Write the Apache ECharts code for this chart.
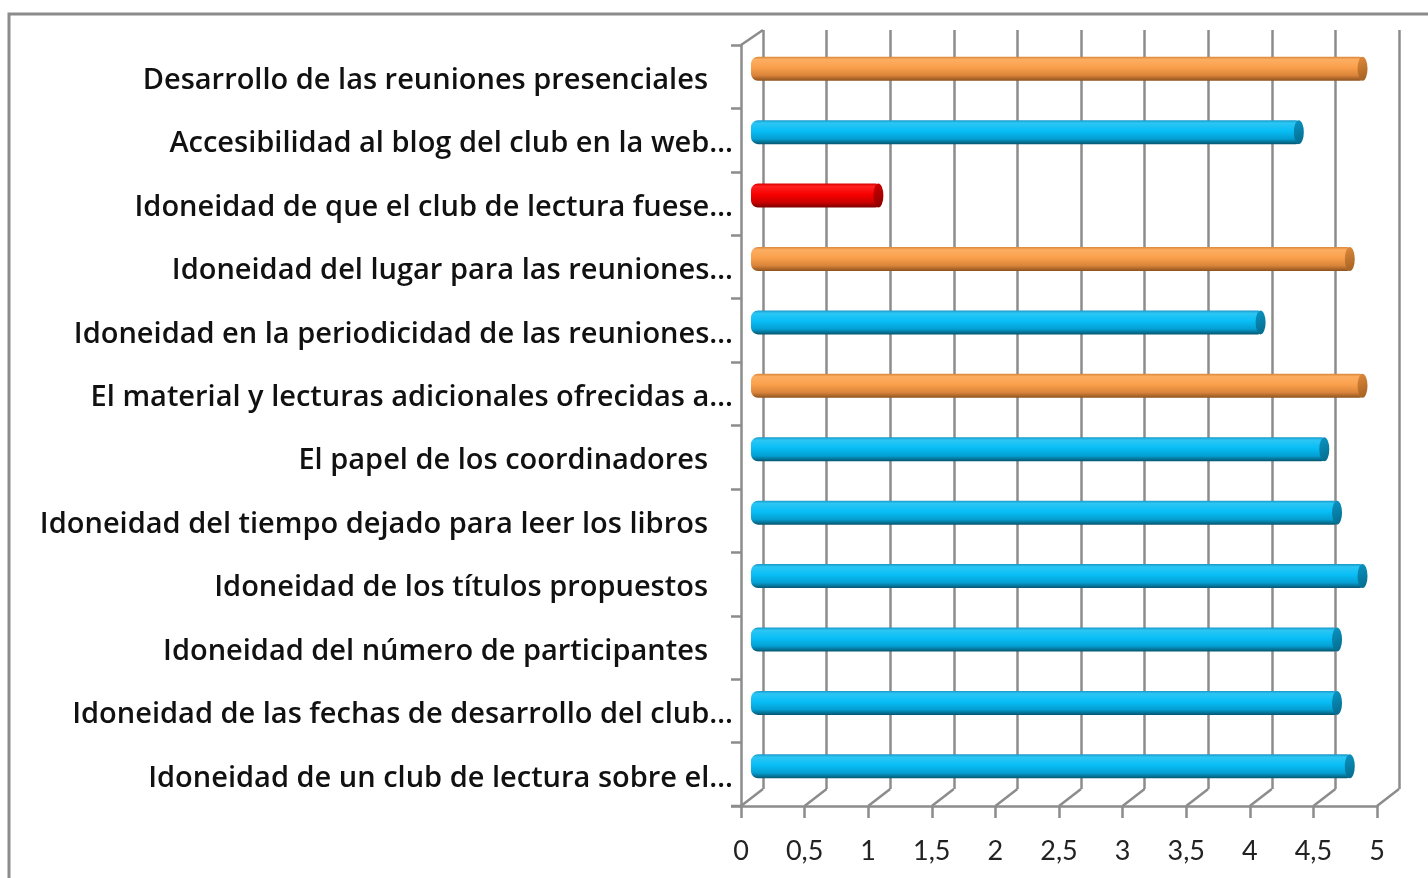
<!DOCTYPE html>
<html>
<head>
<meta charset="utf-8">
<script src="https://cdn.jsdelivr.net/npm/echarts@6/dist/echarts.min.js"></script>
<style>
html,body{margin:0;padding:0;background:#fff;}
#chart{width:1428px;height:878px;}
</style>
</head>
<body>
<div id="chart"></div>
<script>
// ---- data ----
var categories = [
  "Desarrollo de las reuniones presenciales",
  "Accesibilidad al blog del club en la web…",
  "Idoneidad de que el club de lectura fuese…",
  "Idoneidad del lugar para las reuniones…",
  "Idoneidad en la periodicidad de las reuniones…",
  "El material y lecturas adicionales ofrecidas a…",
  "El papel de los coordinadores",
  "Idoneidad del tiempo dejado para leer los libros",
  "Idoneidad de los títulos propuestos",
  "Idoneidad del número de participantes",
  "Idoneidad de las fechas de desarrollo del club…",
  "Idoneidad de un club de lectura sobre el…"
];
var values = [4.8, 4.3, 1.0, 4.7, 4.0, 4.8, 4.5, 4.6, 4.8, 4.6, 4.6, 4.7];
var groups = ["orange","blue","red","orange","blue","orange","blue","blue","blue","blue","blue","blue"];
var xTicks = ["0","0,5","1","1,5","2","2,5","3","3,5","4","4,5","5"];

// ---- styles ----
var palettes = {
  blue:   {body:[[0,'#1898c8'],[0.12,'#2cc6f4'],[0.45,'#08bef6'],[0.78,'#049fd2'],[1,'#05566f']], cap:['#0a94c4','#056a8a']},
  orange: {body:[[0,'#d98638'],[0.12,'#fcae62'],[0.45,'#faa04c'],[0.78,'#d9843a'],[1,'#8e521f']], cap:['#e08a3c','#a0601f']},
  red:    {body:[[0,'#d80000'],[0.12,'#ff2020'],[0.45,'#f80000'],[0.78,'#cc0000'],[1,'#7a0000']], cap:['#d00000','#8a0000']}
};
function grad(stops){
  return new echarts.graphic.LinearGradient(0,0,0,1, stops.map(function(s){return {offset:s[0], color:s[1]};}));
}
var gridColor = '#8c8c8c';
var fontFam = '"Open Sans", Lato, sans-serif';
var tickFam = 'Lato, "Open Sans", sans-serif';

var chart = echarts.init(document.getElementById('chart'), null, {renderer:'canvas'});

var barData = values.map(function(v,i){
  return {value:v, itemStyle:{color:grad(palettes[groups[i]].body)}};
});
var capData = values.map(function(v,i){ return [v, i]; });

var option = {
  animation:false,
  backgroundColor:'#fff',
  grid:[
    {left:763, right:29, top:30, bottom:89, containLabel:false},
    {left:741, right:51, top:45, bottom:72, containLabel:false},
    {left:751, right:40, top:37, bottom:80, containLabel:false}
  ],
  xAxis:[
    {gridIndex:0, type:'value', min:0, max:5, interval:0.5,
     axisLine:{show:false}, axisTick:{show:false}, axisLabel:{show:false},
     splitLine:{show:true, lineStyle:{color:gridColor, width:2.5}}},
    {gridIndex:1, type:'value', min:0, max:5, interval:0.5,
     axisLine:{show:true, onZero:false, lineStyle:{color:gridColor, width:2.5}},
     axisTick:{show:true, length:12, lineStyle:{color:gridColor, width:2.5}},
     splitLine:{show:false},
     axisLabel:{show:true, margin:32, color:'#222', fontSize:27, fontFamily:tickFam,
       formatter:function(v){ return xTicks[Math.round(v*2)]; }}},
    {gridIndex:2, type:'value', min:0, max:5, interval:0.5, show:false}
  ],
  yAxis:[
    {gridIndex:0, type:'category', data:categories, inverse:true, show:false},
    {gridIndex:1, type:'category', data:categories, inverse:true,
     axisLine:{show:true, lineStyle:{color:gridColor, width:2.5}},
     axisTick:{show:true, length:10, lineStyle:{color:gridColor, width:2.5}},
     splitLine:{show:false},
     axisLabel:{show:true, margin:8, color:'#111', fontSize:29, fontWeight:600, fontFamily:fontFam,
       formatter:function(v){
         return v.charAt(v.length-1)==='…' ? '{t|'+v+'}' : '{f|'+v+'}';
       },
       rich:{
         t:{fontSize:29, fontWeight:600, fontFamily:fontFam, color:'#111', padding:[8,0,0,0]},
         f:{fontSize:29, fontWeight:600, fontFamily:fontFam, color:'#111', padding:[8,25,0,0]}
       }}},
    {gridIndex:2, type:'category', data:categories, inverse:true, show:false}
  ],
  series:[
    {type:'bar', xAxisIndex:2, yAxisIndex:2, data:barData, barWidth:24,
     itemStyle:{borderRadius:[7,3,3,7]}, z:5},
    {type:'custom', xAxisIndex:2, yAxisIndex:2, data:capData, z:6,
     renderItem:function(params, api){
       var p = api.coord([api.value(0), api.value(1)]);
       var g = palettes[groups[params.dataIndex]].cap;
       var rx = 5, ry = 12;
       return {
         type:'path',
         shape:{
           pathData:'M0 12 A5 12 0 1 0 10 12 A5 12 0 1 0 0 12 Z',
           x:p[0]-rx, y:p[1]-ry, width:rx*2, height:ry*2, layout:'cover'
         },
         style:{fill:new echarts.graphic.LinearGradient(0,0,1,1,[{offset:0,color:g[0]},{offset:1,color:g[1]}])}
       };
     }}
  ]
};
chart.setOption(option);

// decorations: 3D floor diagonals, wall edges and frame, derived from the axes
var x0 = chart.convertToPixel({xAxisIndex:1}, 0);
var x0b = chart.convertToPixel({xAxisIndex:0}, 0);
var yFront = 878 - 72, yBack = 878 - 89;
var yTopFront = 45, yTopBack = 30;
var dx = x0b - x0;
var gfx = [];
for (var k = 0; k <= 10; k++){
  var xf = chart.convertToPixel({xAxisIndex:1}, k*0.5);
  gfx.push({type:'line', shape:{x1:xf, y1:yFront, x2:xf+dx, y2:yBack},
    style:{stroke:gridColor, lineWidth:2.5}, z:1});
}
gfx.push({type:'line', shape:{x1:x0, y1:yTopFront, x2:x0+dx, y2:yTopBack},
  style:{stroke:gridColor, lineWidth:2.5}, z:1});
gfx.push({type:'line', shape:{x1:x0-10, y1:yFront, x2:x0, y2:yFront},
  style:{stroke:gridColor, lineWidth:2.5}, z:1});
gfx.push({type:'rect', shape:{x:9, y:14, width:1600, height:1000},
  style:{fill:'none', stroke:'#8c8c8c', lineWidth:3}, z:0});
chart.setOption({graphic:gfx});
</script>
</body>
</html>
